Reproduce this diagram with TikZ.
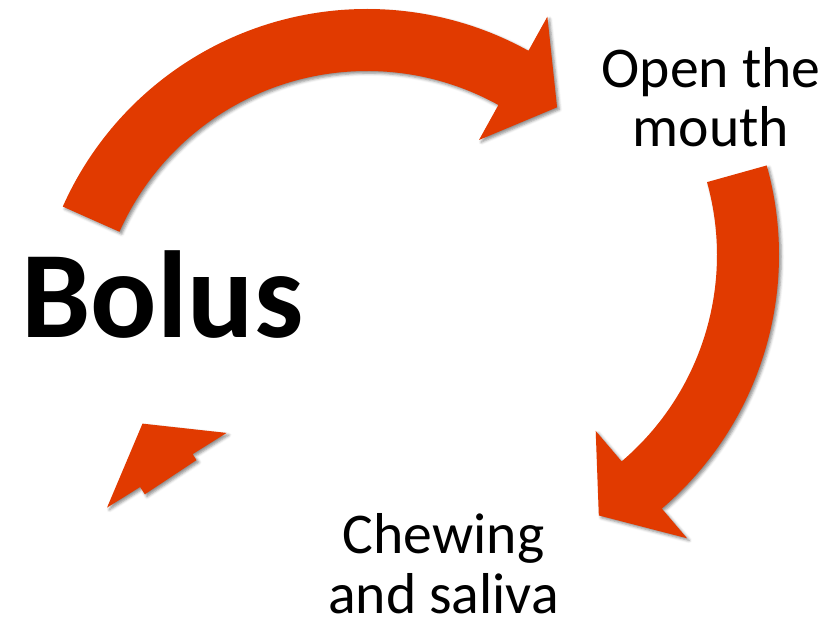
\documentclass[tikz,border=0pt]{standalone}
\usepackage{fontspec}
\setmainfont{Carlito}
\usepackage{tikz}
\usetikzlibrary{calc,shadows.blur}
\definecolor{arroworange}{RGB}{225,58,0}

% curved block arrow: centre, start angle, angle of the head's back
\newcommand{\cyclearrow}[3]{%
  \fill[arrowfill] ($(#1)+(#2:333)$) arc[start angle=#2, end angle=#3, radius=333]
    -- ($(#1)+(#3:372)$) -- ($(#1)+(#3-10:302)$) -- ($(#1)+(#3:231)$)
    -- ($(#1)+(#3:271)$) arc[start angle=#3, end angle=#2, radius=271] -- cycle;}

\begin{document}
\begin{tikzpicture}[
  x=0.025cm, y=0.025cm,
  arrowfill/.style={fill=arroworange, blur shadow={shadow xshift=1.6pt, shadow yshift=-1.6pt, shadow blur radius=2pt, shadow opacity=45}},
  steplabel/.style={font=\fontsize{41}{42.5}\selectfont, align=center, inner sep=0pt, anchor=base},
  mainlabel/.style={font=\fontsize{88}{100}\selectfont\bfseries, inner sep=0pt, anchor=base}
]
\useasboundingbox (0,0) rectangle (832,620);

\coordinate (topc) at (367,278);
\coordinate (rightc) at (446,365);
\coordinate (leftc) at (422.5,309.5);

\cyclearrow{topc}{156}{61}
\cyclearrow{rightc}{15.6}{-49.6}
\cyclearrow{leftc}{213.5}{212}

\node[mainlabel] (bolus) at (162.5,283) {Bolus};
\node[steplabel] (mouth) at (711,473) {Open the\\mouth};
\node[steplabel] (chew) at (443.5,7) {Chewing\\and saliva};
\end{tikzpicture}
\end{document}
